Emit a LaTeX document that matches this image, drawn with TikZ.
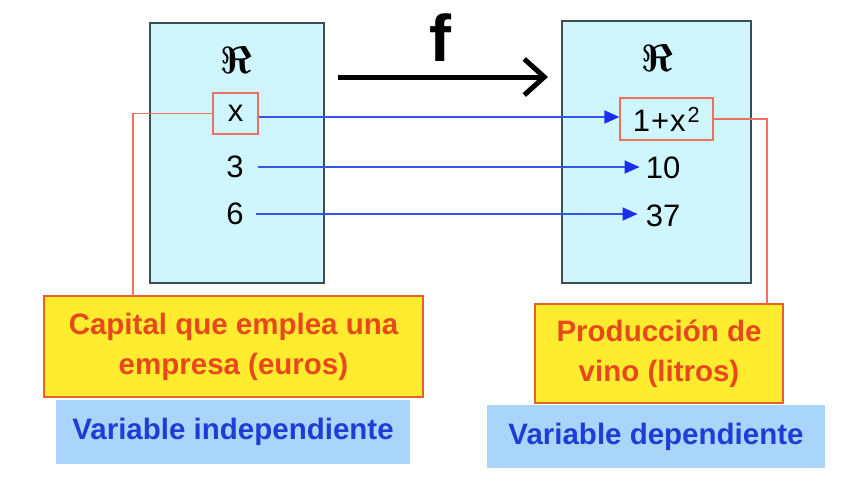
\documentclass[tikz,border=0pt]{standalone}
\usepackage{bm}
\usepackage{fontspec}
\setmainfont{Liberation Sans}
\usetikzlibrary{arrows.meta}
\definecolor{setfill}{HTML}{CFF6FD}
\definecolor{setdraw}{HTML}{3A5050}
\definecolor{yell}{HTML}{FFEC2E}
\definecolor{yelldraw}{HTML}{E8602A}
\definecolor{redtxt}{HTML}{E8481C}
\definecolor{bluebox}{HTML}{A9D5FB}
\definecolor{bluetxt}{HTML}{1F3CD6}
\definecolor{conn}{HTML}{3355EE}
\definecolor{tipblue}{HTML}{1A2EF0}
\definecolor{redline}{HTML}{F07060}
\tikzset{
  setbox/.style={draw=setdraw, line width=1.6pt, fill=setfill, inner sep=0pt},
  valbox/.style={draw=redline, line width=1.2pt, fill=setfill, inner sep=0pt, font=\fontsize{31}{31}\selectfont},
  num/.style={inner sep=0pt, font=\fontsize{31}{31}\selectfont},
  reals/.style={inner sep=0pt},
  yellbox/.style={draw=yelldraw, line width=1.2pt, fill=yell, inner sep=0pt, align=center, text=redtxt, font=\bfseries\fontsize{29.5}{40}\selectfont},
  varbox/.style={fill=bluebox, inner sep=0pt, text=bluetxt, font=\bfseries\fontsize{29.5}{30}\selectfont},
  mapto/.style={conn, line width=1.5pt, -{Triangle[length=15pt,width=13pt,color=tipblue]}},
  link/.style={redline, line width=1.2pt}
}
\begin{document}
\begin{tikzpicture}[x=1pt,y=-1pt]
\useasboundingbox[fill=white] (0,0) rectangle (848,482);
% sets
\node[setbox, minimum width=174pt, minimum height=260pt] (lbox) at (237,153) {};
\node[setbox, minimum width=189pt, minimum height=262pt] (rbox) at (656.5,152) {};
\node[reals] (lR) at (236,60) {\scalebox{3.8}{$\bm{\Re}$}};
\node[reals] (rR) at (657,58) {\scalebox{3.8}{$\bm{\Re}$}};
% values
\node[valbox, minimum width=45pt, minimum height=41pt] (xbox) at (235.5,113.5) {x};
\node[valbox, minimum width=93pt, minimum height=42pt] (fxbox) at (666.5,119) {1\kern1pt+\kern1pt x\kern2pt\textsuperscript{2}};
\node[num] (n3) at (235,167) {3};
\node[num] (n6) at (235,214) {6};
\node[num] (n10) at (663,168) {10};
\node[num] (n37) at (663,216) {37};
% function arrow
\node[inner sep=0pt, font=\bfseries\fontsize{66}{66}\selectfont] (f) at (440,38) {f};
\coordinate (fa) at (338,77);
\coordinate (fb) at (548,77);
\draw[line width=5pt, -{Straight Barb[length=20pt,width=36pt,line width=5pt]}] (fa) -- (fb);
% mapping arrows
\coordinate (s1) at ([yshift=-3.5pt]xbox.east);
\coordinate (s2) at ([xshift=14pt]n3.east);
\coordinate (s3) at ([xshift=12pt]n6.east);
\coordinate (e2) at ([xshift=-6pt]n10.west);
\coordinate (e3) at ([xshift=-8pt]n37.west);
\draw[mapto] (s1) -- (s1 -| fxbox.west);
\draw[mapto] (s2) -- (s2 -| e2);
\draw[mapto] (s3) -- (s3 -| e3);
% variable boxes
\node[varbox, minimum width=354pt, minimum height=64pt] (lvar) at (233,432) {Variable independiente};
\node[varbox, minimum width=338pt, minimum height=63pt] (rvar) at (656,436.5) {Variable dependiente};
\node[yellbox, minimum width=379pt, minimum height=101pt] (lyel) at (233.5,346.5) {Capital que emplea una\\empresa (euros)};
\node[yellbox, minimum width=248pt, minimum height=99pt] (ryel) at (659,353.5) {Producción de\\vino (litros)};
% red links
\coordinate (lc) at (133,296);
\coordinate (rc) at (767,304);
\draw[link] (xbox.west) -| (lc);
\draw[link] (fxbox.east) -| (rc);
\end{tikzpicture}
\end{document}
